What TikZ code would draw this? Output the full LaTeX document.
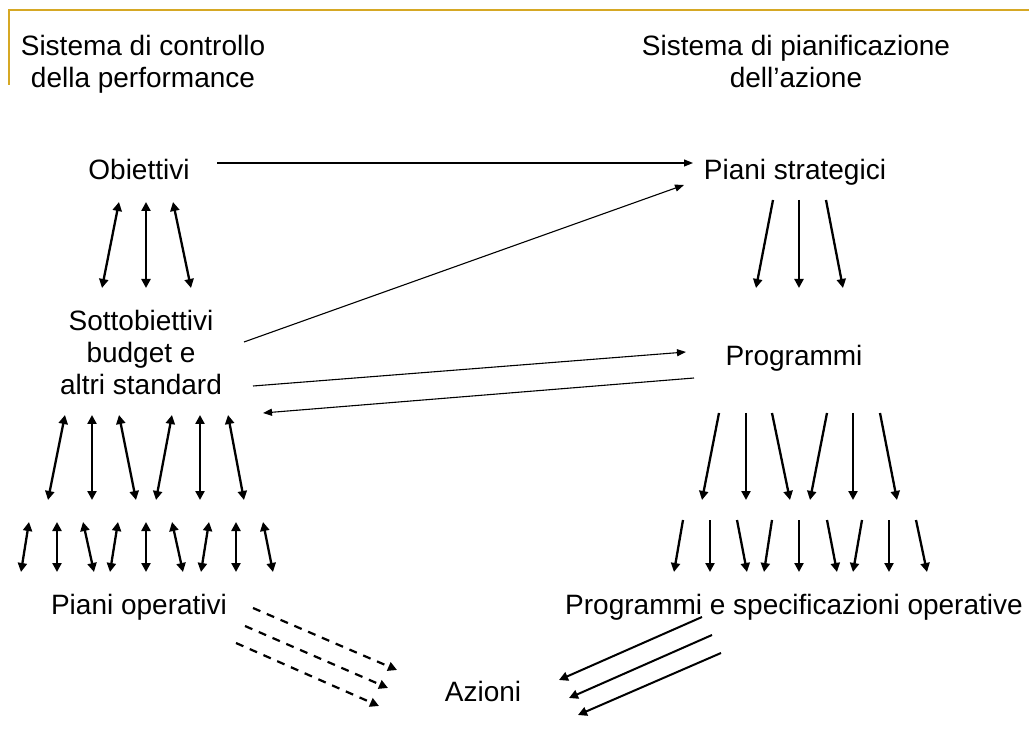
\documentclass[tikz,border=0pt]{standalone}
\usepackage{fontspec}
\setmainfont{Liberation Sans}
\usetikzlibrary{arrows.meta}
\definecolor{frameGold}{RGB}{214,168,36}
\begin{document}
\begin{tikzpicture}[x=1pt,y=-1pt,
  lbl/.style={anchor=base,inner sep=0pt,align=center,
    font=\fontsize{28}{32}\selectfont},
  tipB/.tip={Triangle[length=9pt,width=9pt]},
  tipS/.tip={Triangle[length=9pt,width=7pt]},
  dbl/.style={tipB-tipB,line width=2.3pt},
  down/.style={-tipB,line width=2.3pt},
  thin/.style={-tipS,line width=1.1pt},
  solidlink/.style={-tipB,line width=2pt},
  dashlink/.style={-tipB,line width=2.2pt,dash pattern=on 8pt off 7pt}
]
\useasboundingbox (0,0) rectangle (1029,735);

% corner frame
\draw[frameGold,line width=2pt] (9,85) -- (9,10) -- (1029,10);

% titles (base anchor sits on the last line)
\node[lbl] (titL) at (143,88) {Sistema di controllo\\della performance};
\node[lbl] (titR) at (796,88) {Sistema di pianificazione\\dell’azione};

% text nodes
\node[lbl] (obj)  at (139,180) {Obiettivi};
\node[lbl] (ps)   at (795,180) {Piani strategici};
\node[lbl] (sub)  at (141,395) {Sottobiettivi\\budget e\\altri standard};
\node[lbl] (prog) at (794,366) {Programmi};
\node[lbl] (po)   at (139,614) {Piani operativi};
\node[lbl] (pso)  at (794,614) {Programmi e specificazioni operative};
\node[lbl] (az)   at (483,701) {Azioni};

% links between the two systems
\coordinate (objR)  at (217,163);
\coordinate (psL)   at (693,163);
\coordinate (subA)  at (244,342);
\coordinate (psB)   at (684,185);
\coordinate (subB)  at (253,386);
\coordinate (progL) at (686,352);
\coordinate (progB) at (694,378);
\coordinate (subC)  at (263,413);
\draw[thin] (objR) -- (psL);
\draw[thin] (subA) -- (psB);
\draw[thin] (subB) -- (progL);
\draw[thin] (progB) -- (subC);

% Obiettivi <-> Sottobiettivi
\foreach \xa/\xb [count=\i] in {119/102,146/146,173/191}{
  \coordinate (oa\i) at (\xa,202);
  \coordinate (ob\i) at (\xb,288);
  \draw[dbl] (oa\i) -- (ob\i);
}
% Sottobiettivi <-> first level below
\foreach \xa/\xb [count=\i] in {65/48,92/92,119/136,172/156,200/200,228/244}{
  \coordinate (sa\i) at (\xa,415);
  \coordinate (sb\i) at (\xb,500);
  \draw[dbl] (sa\i) -- (sb\i);
}
% second level above Piani operativi
\foreach \xa/\xb [count=\i] in {29/21,57/57,83/94,118/110,146/146,172/183,209/201,236/236,263/273}{
  \coordinate (ta\i) at (\xa,522);
  \coordinate (tb\i) at (\xb,572);
  \draw[dbl] (ta\i) -- (tb\i);
}

% Piani strategici -> Programmi
\foreach \xa/\xb [count=\i] in {773/756,799/799,826/843}{
  \coordinate (pa\i) at (\xa,200);
  \coordinate (pb\i) at (\xb,288);
  \draw[down] (pa\i) -- (pb\i);
}
% Programmi -> first level below
\foreach \xa/\xb [count=\i] in {719/702,746/746,772/790,827/810,853/853,880/897}{
  \coordinate (ga\i) at (\xa,413);
  \coordinate (gb\i) at (\xb,500);
  \draw[down] (ga\i) -- (gb\i);
}
% second level above the operative programmes
\foreach \xa/\xb [count=\i] in {683/674,710/710,737/747,772/764,799/799,827/837,862/853,889/889,916/927}{
  \coordinate (ha\i) at (\xa,520);
  \coordinate (hb\i) at (\xb,572);
  \draw[down] (ha\i) -- (hb\i);
}

% Piani operativi -> Azioni (dashed)
\foreach \xa/\ya/\xb/\yb [count=\i] in {253/608/397/670,245/626/388/688,236/643/379/706}{
  \coordinate (da\i) at (\xa,\ya);
  \coordinate (db\i) at (\xb,\yb);
  \draw[dashlink] (da\i) -- (db\i);
}
% Programmi e specificazioni operative -> Azioni
\foreach \xa/\ya/\xb/\yb [count=\i] in {702/617/559/680,712/635/569/698,721/653/578/715}{
  \coordinate (ea\i) at (\xa,\ya);
  \coordinate (eb\i) at (\xb,\yb);
  \draw[solidlink] (ea\i) -- (eb\i);
}
\end{tikzpicture}
\end{document}
